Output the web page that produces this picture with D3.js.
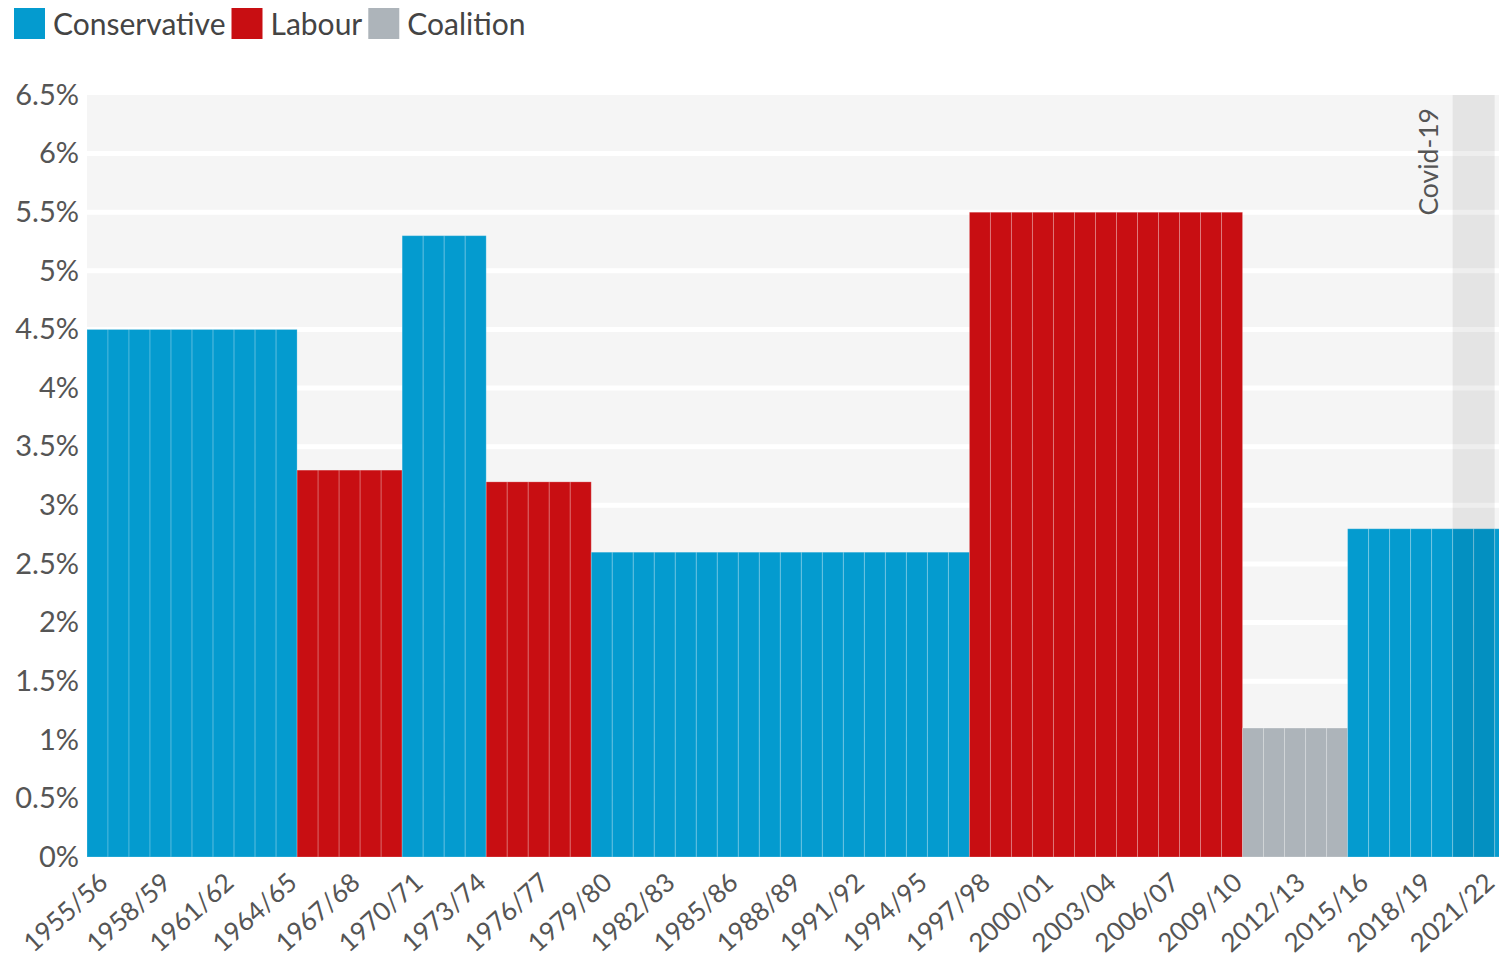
<!DOCTYPE html>
<html><head><meta charset="utf-8">
<script src="https://cdn.jsdelivr.net/npm/d3@7"></script>
<style>
html,body{margin:0;padding:0;background:#fff;overflow:hidden}
svg{display:block;font-family:Lato,"Open Sans",sans-serif}
</style></head>
<body><svg id="c" width="1499" height="960"></svg>
<script>
const years = ["1955/56","1956/57","1957/58","1958/59","1959/60","1960/61","1961/62","1962/63","1963/64","1964/65",
"1965/66","1966/67","1967/68","1968/69","1969/70","1970/71","1971/72","1972/73","1973/74","1974/75",
"1975/76","1976/77","1977/78","1978/79","1979/80","1980/81","1981/82","1982/83","1983/84","1984/85",
"1985/86","1986/87","1987/88","1988/89","1989/90","1990/91","1991/92","1992/93","1993/94","1994/95",
"1995/96","1996/97","1997/98","1998/99","1999/00","2000/01","2001/02","2002/03","2003/04","2004/05",
"2005/06","2006/07","2007/08","2008/09","2009/10","2010/11","2011/12","2012/13","2013/14","2014/15",
"2015/16","2016/17","2017/18","2018/19","2019/20","2020/21","2021/22","2022/23"];
const periodParty = ["Conservative","Labour","Conservative","Labour","Conservative","Labour","Coalition","Conservative"];
const periodFirst = ["1955/56","1965/66","1970/71","1974/75","1979/80","1997/98","2010/11","2015/16"];
const periodRate  = [4.5, 3.3, 5.3, 3.2, 2.6, 5.5, 1.1, 2.8];
const parties = ["Conservative","Labour","Coalition"];
const partyColors = ["#049bcf","#c80e12","#adb4ba"];
const yTicks = [0,0.5,1,1.5,2,2.5,3,3.5,4,4.5,5,5.5,6,6.5];
const tickYears = ["1955/56","1958/59","1961/62","1964/65","1967/68","1970/71","1973/74","1976/77","1979/80","1982/83","1985/86","1988/89","1991/92","1994/95","1997/98","2000/01","2003/04","2006/07","2009/10","2012/13","2015/16","2018/19","2021/22"];
const covidYears = ["2020/21","2021/22"];
const covidLabel = "Covid-19";

// build bar data: each year takes its period's value
const bars = years.map(y => {
  let k = 0;
  periodFirst.forEach((p, i) => { if (years.indexOf(y) >= years.indexOf(p)) k = i; });
  return {year: y, party: periodParty[k], value: periodRate[k]};
});

const svg = d3.select("#c");
const W = 1499;
const x0 = 87, bw = 21.01;
const x = d3.scaleBand().domain(years).range([x0, x0 + bw * years.length]).padding(0);
const y = d3.scaleLinear().domain([0, 6.5]).range([857, 95]);
const color = d3.scaleOrdinal().domain(parties).range(partyColors);

// plot background
svg.append("rect").attr("x", x0).attr("y", y(6.5)).attr("width", W - x0).attr("height", y(0) - y(6.5)).attr("fill", "#f5f5f5");
// gridlines
svg.append("g").selectAll("line").data(yTicks.filter(d => d > 0 && d < 6.5)).join("line")
  .attr("x1", x0).attr("x2", W).attr("y1", d => y(d)).attr("y2", d => y(d))
  .attr("stroke", "#fff").attr("stroke-width", 5);

// bars
svg.append("g").selectAll("rect").data(bars).join("rect")
  .attr("x", d => x(d.year)).attr("width", x.bandwidth())
  .attr("y", d => y(d.value)).attr("height", d => y(0) - y(d.value))
  .attr("fill", d => color(d.party))
  .attr("stroke", "rgba(255,255,255,0.22)").attr("stroke-width", 1);

// covid shading
const cx0 = x(covidYears[0]), cx1 = x(covidYears[covidYears.length - 1]) + x.bandwidth();
svg.append("rect").attr("x", cx0).attr("y", y(6.5)).attr("width", cx1 - cx0).attr("height", y(0) - y(6.5))
  .attr("fill", "#000").attr("opacity", 0.065);
svg.append("text").attr("transform", `translate(${cx0 - 15},${y(6.5) + 13}) rotate(-90)`)
  .attr("text-anchor", "end").attr("font-size", 26.5).attr("fill", "#555").text(covidLabel);

// y axis
const yAxis = d3.axisLeft(y).tickValues(yTicks).tickSize(0).tickPadding(8).tickFormat(d => d + "%");
const gy = svg.append("g").attr("transform", `translate(${x0},0)`).call(yAxis);
gy.select(".domain").remove();
gy.selectAll("text").attr("font-size", 29).attr("fill", "#555").attr("font-family", "Lato, sans-serif");

// x axis
const xAxis = d3.axisBottom(x).tickValues(tickYears).tickSize(0).tickPadding(0);
const gx = svg.append("g").attr("transform", `translate(0,${y(0)})`).call(xAxis);
gx.select(".domain").remove();
gx.selectAll("text").attr("font-size", 26).attr("fill", "#555").attr("font-family", "Lato, sans-serif")
  .attr("text-anchor", "end").attr("dy", 0).attr("y", 0)
  .attr("transform", "translate(12,28) rotate(-42)");

// legend
const lg = svg.append("g");
let lx = 14;
parties.forEach((p, i) => {
  const g = lg.append("g");
  g.append("rect").attr("x", lx).attr("y", 8).attr("width", 31).attr("height", 31).attr("fill", partyColors[i]);
  const t = g.append("text").attr("x", lx + 39).attr("y", 35).attr("font-size", 30).attr("fill", "#444").text(p);
  lx += 39 + t.node().getComputedTextLength() + 6;
});
</script></body></html>
